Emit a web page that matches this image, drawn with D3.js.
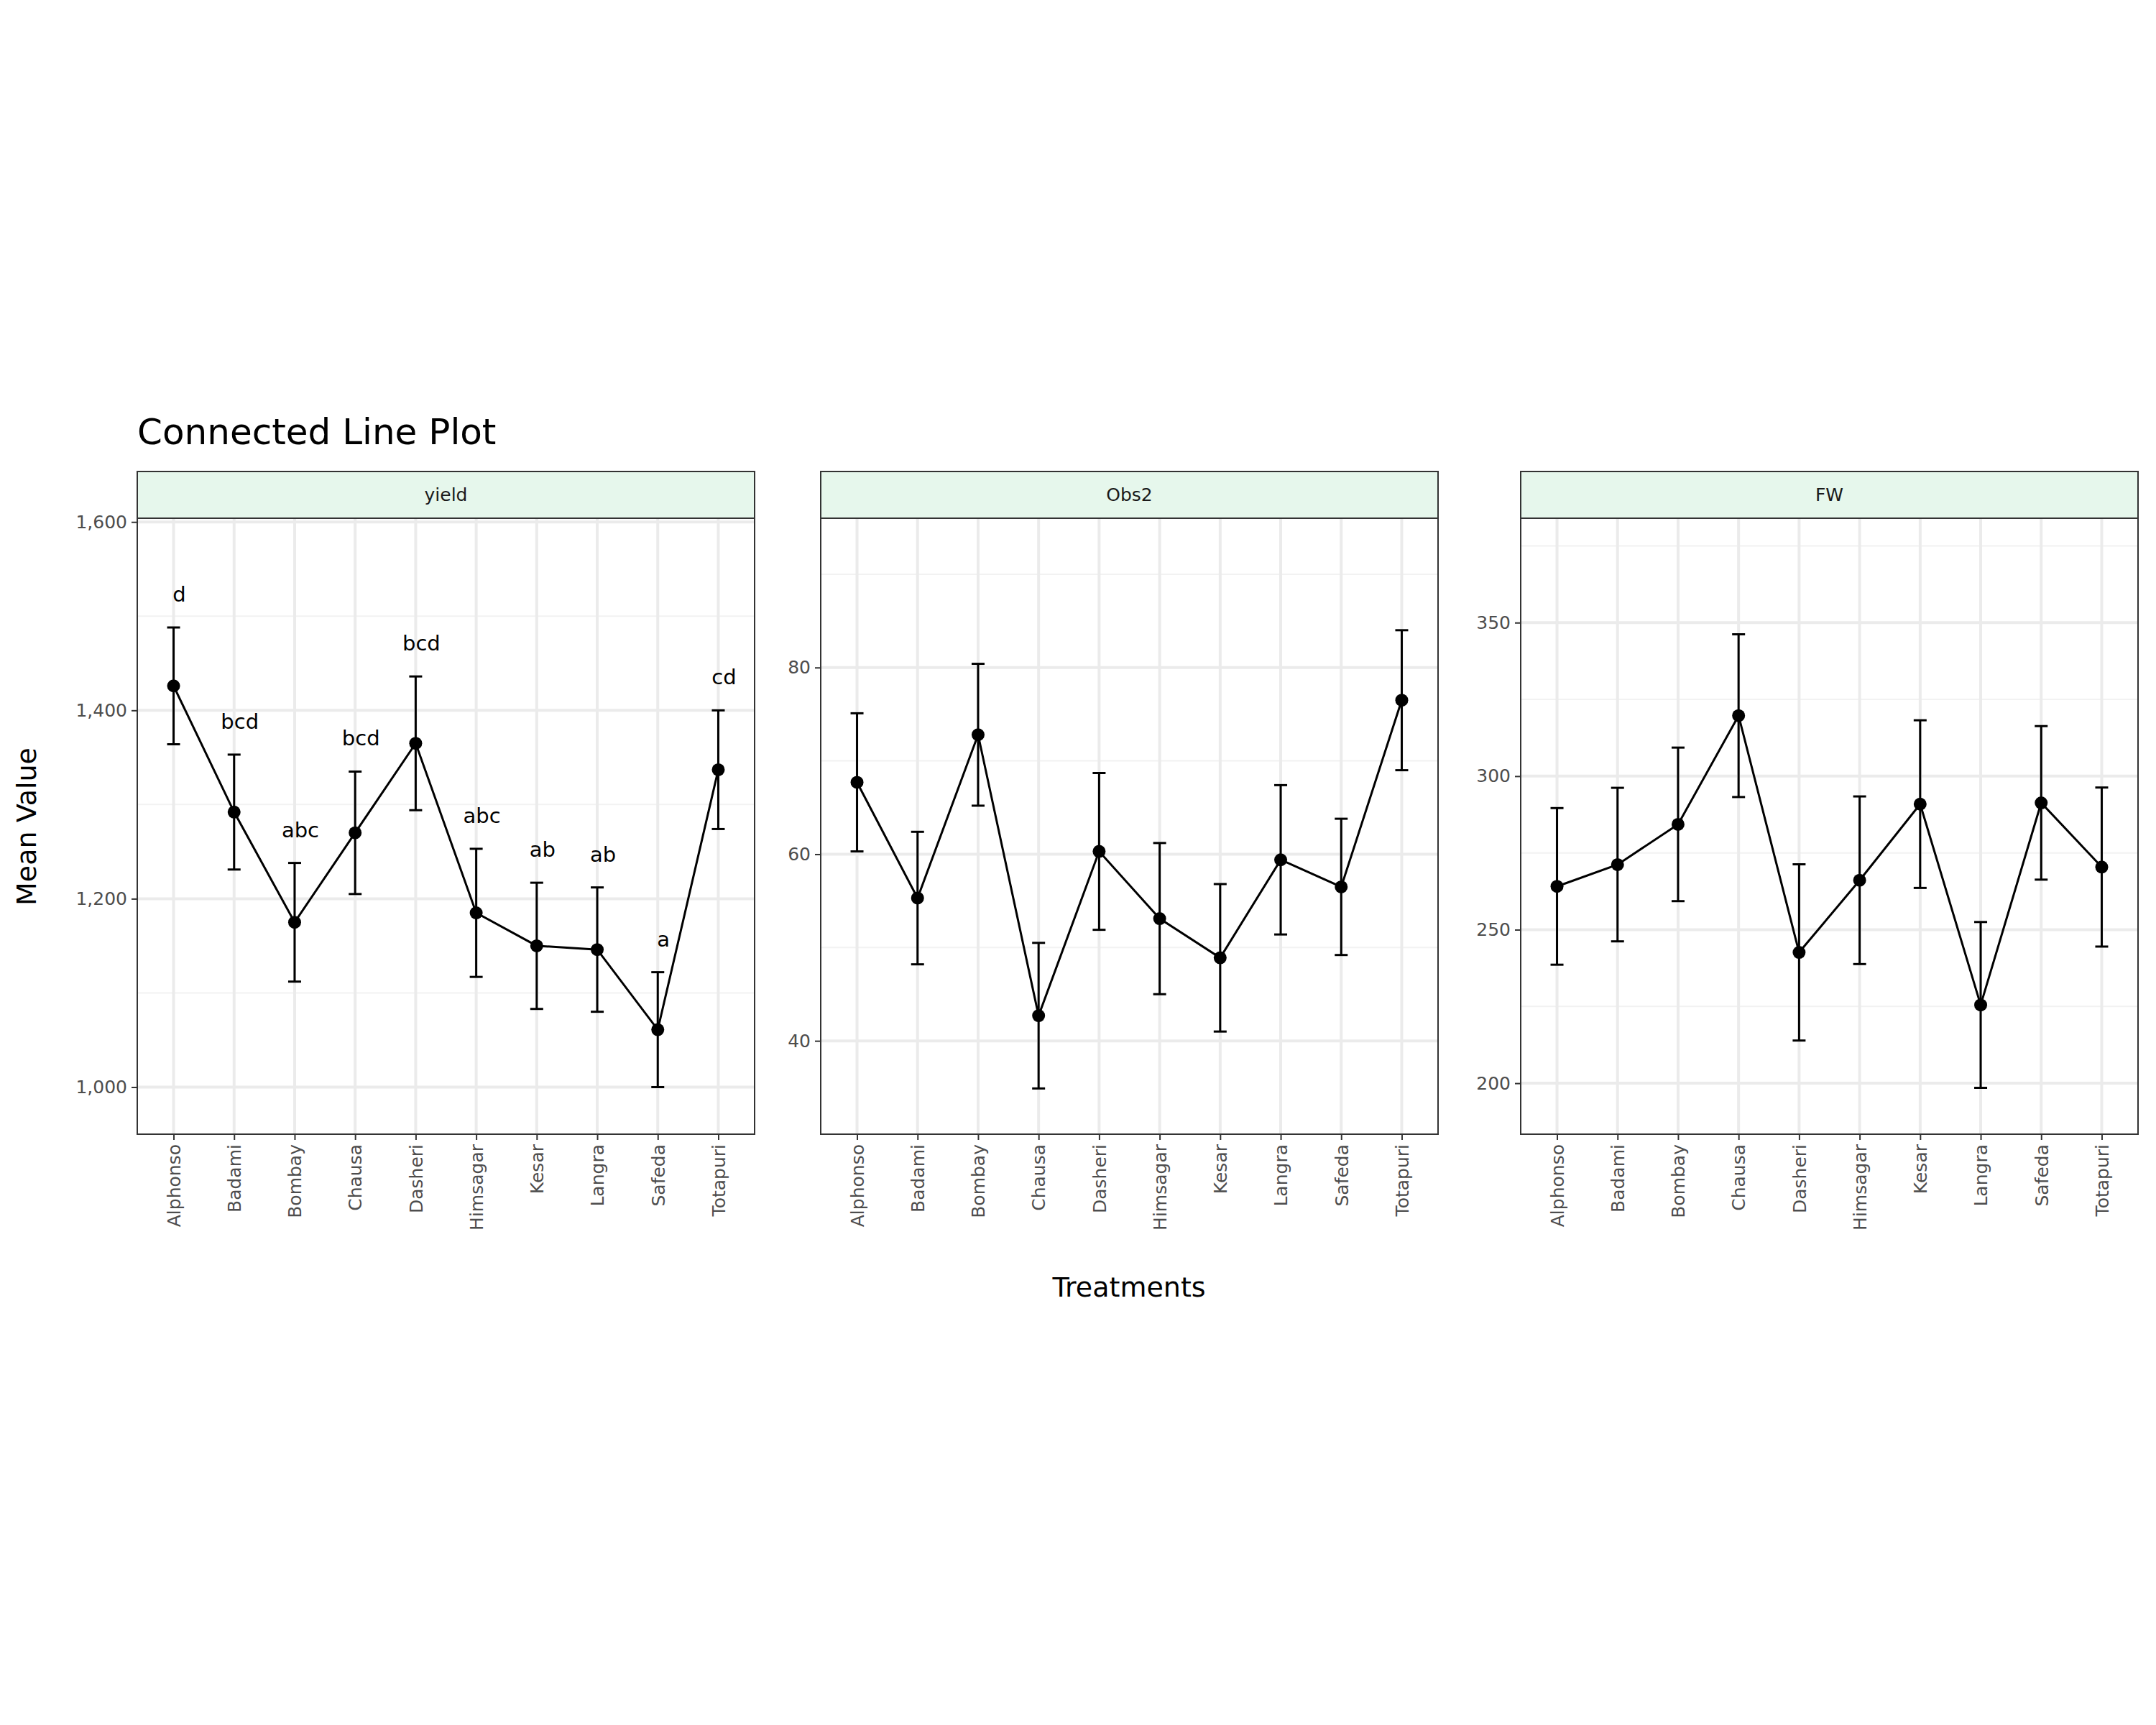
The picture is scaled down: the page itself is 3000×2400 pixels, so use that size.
<!DOCTYPE html>
<html><head><meta charset="utf-8">
<script src="https://cdn.jsdelivr.net/npm/d3@7"></script>
<style>body{margin:0;background:#fff}</style>
</head><body>
<script>
const treatments = ["Alphonso","Badami","Bombay","Chausa","Dasheri","Himsagar","Kesar","Langra","Safeda","Totapuri"];
const yieldMean = [1426,1292,1175,1270,1365,1185,1150,1146,1061,1337];
const yieldErr  = [62,61,63,65,71,68,67,66,61,63];
const yieldLetters = ["d","bcd","abc","bcd","bcd","abc","ab","ab","a","cd"];
const obs2Mean = [67.7,55.3,72.8,42.7,60.3,53.1,48.9,59.4,56.5,76.5];
const obs2Err  = [7.4,7.1,7.6,7.8,8.4,8.1,7.9,8.0,7.3,7.5];
const fwMean = [264.1,271.2,284.3,319.7,242.6,266.1,290.9,225.5,291.3,270.4];
const fwErr  = [25.5,25.0,25.0,26.5,28.7,27.3,27.3,27.0,25.0,25.9];

const panels = [
  {name:"yield", mean:yieldMean, err:yieldErr, letters:yieldLetters, domain:[950,1604], ticks:[1000,1200,1400,1600], x0:191},
  {name:"Obs2", mean:obs2Mean, err:obs2Err, letters:null, domain:[30,96], ticks:[40,60,80], x0:1142},
  {name:"FW", mean:fwMean, err:fwErr, letters:null, domain:[183.4,384], ticks:[200,250,300,350], x0:2116}
];
const pw = 859, plotTop = 721, plotBottom = 1578, stripTop = 656;

const svg = d3.select("body").append("svg").attr("width",3000).attr("height",2400)
  .style("font-family","DejaVu Sans, sans-serif");
svg.append("rect").attr("width",3000).attr("height",2400).attr("fill","#fff");

svg.append("text").attr("x",191).attr("y",618).attr("font-size",50).attr("fill","#000").text("Connected Line Plot");
svg.append("text").attr("transform","translate(50,1150) rotate(-90)").attr("text-anchor","middle")
  .attr("font-size",38).text("Mean Value");
svg.append("text").attr("x",1571).attr("y",1804).attr("text-anchor","middle").attr("font-size",38).text("Treatments");

panels.forEach(p => {
  const g = svg.append("g").attr("transform",`translate(${p.x0},0)`);
  const x = d3.scalePoint().domain(treatments).range([0,pw]).padding(0.6);
  const y = d3.scaleLinear().domain(p.domain).range([plotBottom,plotTop]);
  const step = p.ticks[1]-p.ticks[0];
  const minor = p.ticks.map(t=>t-step/2).concat([p.ticks[p.ticks.length-1]+step/2])
    .filter(v=>v>p.domain[0]&&v<p.domain[1]);
  g.selectAll(".mn").data(minor).enter().append("line")
    .attr("x1",0).attr("x2",pw).attr("y1",d=>y(d)).attr("y2",d=>y(d)).attr("stroke","#F2F2F2").attr("stroke-width",2);
  g.selectAll(".mj").data(p.ticks).enter().append("line")
    .attr("x1",0).attr("x2",pw).attr("y1",d=>y(d)).attr("y2",d=>y(d)).attr("stroke","#EBEBEB").attr("stroke-width",4);
  g.selectAll(".vx").data(treatments).enter().append("line")
    .attr("x1",d=>x(d)).attr("x2",d=>x(d)).attr("y1",plotTop).attr("y2",plotBottom).attr("stroke","#EBEBEB").attr("stroke-width",4);

  const ya = g.append("g").call(d3.axisLeft(y).tickValues(p.ticks).tickSize(8).tickPadding(6));
  ya.select(".domain").remove();
  ya.selectAll("line").attr("stroke","#333").attr("stroke-width",2);
  ya.selectAll("text").attr("font-size",25).attr("fill","#4D4D4D").attr("font-family","DejaVu Sans, sans-serif");
  const xa = g.append("g").attr("transform",`translate(0,${plotBottom})`).call(d3.axisBottom(x).tickSize(8));
  xa.select(".domain").remove();
  xa.selectAll("line").attr("stroke","#333").attr("stroke-width",2);
  xa.selectAll("text").attr("font-size",25).attr("fill","#4D4D4D").attr("font-family","DejaVu Sans, sans-serif")
    .attr("transform","rotate(-90)").attr("text-anchor","end").attr("y",0).attr("x",-14).attr("dy","0.35em");

  const pts = treatments.map((t,i)=>({t, m:p.mean[i], e:p.err[i], l:p.letters?p.letters[i]:null}));
  g.append("path").datum(pts).attr("fill","none").attr("stroke","#000").attr("stroke-width",3)
    .attr("d", d3.line().x(d=>x(d.t)).y(d=>y(d.m)));
  const eb = g.selectAll(".eb").data(pts).enter().append("g");
  eb.append("line").attr("x1",d=>x(d.t)).attr("x2",d=>x(d.t)).attr("y1",d=>y(d.m-d.e)).attr("y2",d=>y(d.m+d.e))
    .attr("stroke","#000").attr("stroke-width",3);
  [1,-1].forEach(s=>eb.append("line").attr("x1",d=>x(d.t)-9).attr("x2",d=>x(d.t)+9)
    .attr("y1",d=>y(d.m+s*d.e)).attr("y2",d=>y(d.m+s*d.e)).attr("stroke","#000").attr("stroke-width",3));
  eb.append("circle").attr("cx",d=>x(d.t)).attr("cy",d=>y(d.m)).attr("r",9).attr("fill","#000");
  if (p.letters) {
    eb.append("text").attr("x",d=>x(d.t)+8).attr("y",d=>y(d.m+d.e)-36).attr("text-anchor","middle")
      .attr("font-size",29).text(d=>d.l);
  }
  g.append("rect").attr("x",0).attr("y",plotTop).attr("width",pw).attr("height",plotBottom-plotTop)
    .attr("fill","none").attr("stroke","#333").attr("stroke-width",2);
  g.append("rect").attr("x",0).attr("y",stripTop).attr("width",pw).attr("height",plotTop-stripTop)
    .attr("fill","#E6F7EC").attr("stroke","#333").attr("stroke-width",2);
  g.append("text").attr("x",pw/2).attr("y",(stripTop+plotTop)/2).attr("dy","0.35em").attr("text-anchor","middle")
    .attr("font-size",25).attr("fill","#1A1A1A").text(p.name);
});
</script>
</body></html>
